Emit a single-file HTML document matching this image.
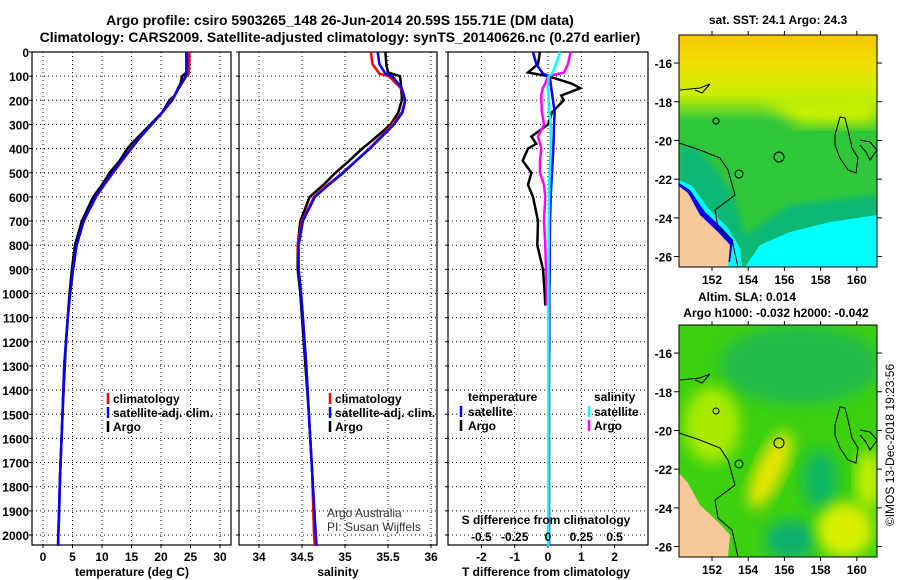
<!DOCTYPE html>
<html><head><meta charset="utf-8"><style>
html,body{margin:0;padding:0;background:#fff;}
svg{display:block;font-family:"Liberation Sans",sans-serif;font-weight:bold;}
</style></head><body>
<svg id="chart" width="900" height="580" viewBox="0 0 900 580" xmlns="http://www.w3.org/2000/svg">
<defs>
<linearGradient id="sstTop" x1="0" y1="0" x2="0" y2="1">
<stop offset="0" stop-color="#f6c400"/><stop offset="0.35" stop-color="#f0e000"/><stop offset="0.7" stop-color="#c8f000"/><stop offset="1" stop-color="#34c83c"/>
</linearGradient>
<filter id="blur" x="-20%" y="-20%" width="140%" height="140%"><feGaussianBlur stdDeviation="7"/></filter>
<filter id="blur2" x="-20%" y="-20%" width="140%" height="140%"><feGaussianBlur stdDeviation="3"/></filter>
<clipPath id="clipTop"><rect x="679" y="35" width="198" height="232"/></clipPath>
<clipPath id="clipBot"><rect x="679" y="325" width="198" height="232"/></clipPath>
</defs>
<text x="340" y="25" text-anchor="middle" font-size="14">Argo profile: csiro 5903265_148 26-Jun-2014 20.59S 155.71E (DM data)</text>
<text x="340" y="42" text-anchor="middle" font-size="14">Climatology: CARS2009. Satellite-adjusted climatology: synTS_20140626.nc (0.27d earlier)</text>

<!-- top map -->
<g clip-path="url(#clipTop)">
<rect x="679" y="35" width="198" height="232" fill="#30c63a"/>
<rect x="679" y="35" width="198" height="85" fill="url(#sstTop)"/>
<path d="M760,100 L877,95 L877,125 L800,125 Z" fill="#c8f000" filter="url(#blur)"/>
<path d="M679,145 L700,150 L720,175 L735,200 L745,235 L790,205 L877,195 L877,267 L679,267 Z" fill="#10b874" filter="url(#blur2)"/>
<path d="M745,267 L760,245 L790,232 L830,222 L877,215 L877,267 Z" fill="#00ffff"/>
<path d="M679,180 L692,186 L708,208 L728,228 L740,248 L742,267 L679,267 Z" fill="#00ffff"/>
<path d="M679,183 L690,190 L705,212 L722,228 L733,240 L730,262 L679,262 Z" fill="#0000f0"/>
<path d="M679,186 L688,193 L700,215 L718,232 L730,245 L728,267 L679,267 Z" fill="#f8c898"/>
<g fill="none" stroke="#000" stroke-width="1">
<path d="M679,143 L700,150 L720,158 L728,170 L735,195 L715,210 L718,228 L732,240 L738,267"/>
<circle cx="779" cy="157" r="5"/><circle cx="716" cy="121" r="3"/><circle cx="739" cy="174" r="4"/>
<path d="M835,135 L840,117 L845,118 L848,130 L852,148 L858,158 L856,173 L848,170 L840,158 L835,145 Z"/>
<path d="M680,90 L700,88 L710,84 L702,93 L695,90"/>
<path d="M860,140 L870,142 L877,150 L870,160 L866,152 L860,145"/>
</g>
</g>
<rect x="679" y="35" width="198" height="232" fill="none" stroke="#000" stroke-width="1"/>
<text x="778" y="24" text-anchor="middle" font-size="12">sat. SST: 24.1 Argo: 24.3</text>

<!-- bottom map -->
<g clip-path="url(#clipBot)">
<rect x="679" y="325" width="198" height="232" fill="#3cd010"/>
<ellipse cx="800" cy="365" rx="80" ry="40" fill="#20bc48" filter="url(#blur)"/>
<ellipse cx="712" cy="425" rx="28" ry="38" fill="#a8ea00" filter="url(#blur)"/>
<ellipse cx="770" cy="470" rx="14" ry="42" fill="#e8e400" filter="url(#blur)" transform="rotate(25 770 470)"/>
<ellipse cx="820" cy="480" rx="18" ry="30" fill="#10b860" filter="url(#blur)"/>
<ellipse cx="790" cy="540" rx="25" ry="20" fill="#10b070" filter="url(#blur)"/>
<ellipse cx="845" cy="530" rx="28" ry="28" fill="#d8f000" filter="url(#blur)"/>
<ellipse cx="868" cy="480" rx="12" ry="30" fill="#c8f000" filter="url(#blur)"/>
<path d="M679,473 L688,483 L700,505 L718,522 L730,535 L728,557 L679,557 Z" fill="#f8c898"/>
<g fill="none" stroke="#000" stroke-width="1">
<path d="M679,433 L700,440 L720,448 L728,460 L735,485 L715,500 L718,518 L732,530 L738,557"/>
<circle cx="779" cy="443" r="5"/><circle cx="716" cy="411" r="3"/><circle cx="739" cy="464" r="4"/>
<path d="M835,425 L840,407 L845,408 L848,420 L852,438 L858,448 L856,463 L848,460 L840,448 L835,435 Z"/>
<path d="M680,380 L700,378 L710,374 L702,383 L695,380"/>
<path d="M860,430 L870,432 L877,440 L870,450 L866,442 L860,435"/>
</g>
</g>
<rect x="679" y="325" width="198" height="232" fill="none" stroke="#000" stroke-width="1"/>
<text x="747" y="301" text-anchor="middle" font-size="12">Altim. SLA: 0.014</text>
<text x="776" y="317" text-anchor="middle" font-size="12">Argo h1000: -0.032 h2000: -0.042</text>
<text transform="translate(894,445) rotate(-90)" text-anchor="middle" font-size="12" font-weight="normal">©IMOS 13-Dec-2018 19:23:56</text>

<g id="plots"></g>
</svg>
<script>
// ---- data ----
const climDepths = [0,50,90,100,150,200,250,300,350,400,450,500,550,600,700,800,900,1000,1100,1200,1300,1500,1750,2000,2045];
const tempClim = [24.8,24.8,24.7,24.3,23.0,21.8,20.2,18.4,16.6,15.0,13.4,11.9,10.4,9.0,6.9,5.7,5.1,4.6,4.2,3.9,3.6,3.3,2.9,2.6,2.5];
const tempSat = [24.4,24.4,24.4,24.2,23.0,21.9,20.2,18.4,16.6,14.9,13.3,11.8,10.3,8.9,6.9,5.7,5.1,4.6,4.2,3.9,3.6,3.3,2.9,2.6,2.6];
const salClim = [35.30,35.32,35.40,35.51,35.65,35.70,35.66,35.55,35.42,35.28,35.13,34.97,34.80,34.64,34.50,34.45,34.46,34.49,34.51,34.53,34.55,34.58,34.62,34.64,34.65];
const salSat = [35.38,35.40,35.47,35.55,35.66,35.70,35.67,35.57,35.43,35.29,35.13,34.98,34.81,34.65,34.51,34.46,34.46,34.49,34.51,34.53,34.55,34.58,34.62,34.66,34.67];
const argoDepths = [0,50,85,100,130,150,180,200,250,300,350,380,400,450,500,550,600,700,800,900,1000,1200,1500,1750,1950];
const tempArgo = [24.3,24.3,24.3,23.6,23.3,22.9,22.3,21.4,20.2,18.2,16.2,15.0,14.3,13.0,11.3,10.0,8.5,6.6,5.4,4.9,4.5,3.9,3.3,2.9,2.7];
const salArgo = [35.47,35.48,35.50,35.64,35.65,35.65,35.66,35.66,35.62,35.53,35.37,35.27,35.20,35.05,34.89,34.75,34.59,34.48,34.45,34.45,34.48,34.52,34.58,34.62,34.64];
const diffDepths = [0,50,85,100,130,150,180,200,250,300,350,380,400,450,500,550,600,700,800,900,1000,1050];
const tDiffArgo = [-0.24,-0.3,-0.6,0,0.7,0.97,0.4,0.47,0.12,0,-0.5,-0.35,-0.6,-0.76,-0.5,-0.6,-0.45,-0.3,-0.32,-0.15,-0.1,-0.08];
const sDiffArgo = [0.17,0.15,0.12,0,-0.02,-0.04,-0.05,-0.05,-0.045,-0.03,-0.075,-0.06,-0.05,-0.06,-0.06,-0.03,-0.02,-0.03,-0.02,-0.015,-0.01,-0.01];
const tDiffSat = [-0.45,-0.35,-0.15,0.05,0.1,0.15,0.2,0.18,0.17,0.16,0.14,0.12,0.1,0.08,0.06,0.05,0.05,0.04,0.04,0.04,0.03,0.03,0.03,0.03,0.03];
const sDiffSat = [0.09,0.06,0.03,0.005,0,0.005,0.01,0.02,0.02,0.02,0.015,0.012,0.01,0.008,0.006,0.005,0.004,0.003,0.003,0.003,0.003,0.003,0.003,0.003,0.003];
const depthTicks = [0,100,200,300,400,500,600,700,800,900,1000,1100,1200,1300,1400,1500,1600,1700,1800,1900,2000];
const tempTicks = [0,5,10,15,20,25,30];
const salTicks = [34,34.5,35,35.5,36];
const tdTicks = [-2,-1,0,1,2];
const sdTickLabels = ["-0.5","-0.25","0","0.25","0.5"];
const latTicks = [-16,-18,-20,-22,-24,-26];
const lonTicks = [152,154,156,158,160];

const NS = "http://www.w3.org/2000/svg";
const root = document.getElementById('plots');
function mk(tag, attrs, parent){const e=document.createElementNS(NS,tag);for(const k in attrs)e.setAttribute(k,attrs[k]);(parent||root).appendChild(e);return e;}
const top0=52, bot=545;
const yD = d => top0 + d*0.2415;
const xT = t => 43 + t*5.9;
const xS = s => 259 + (s-34)*86;
const xTD = t => 548 + t*33.3;
const xSD = s => 548 + s*133.2;

function panel(name,x0,x1,xTicks,xf,labels){
  const g=mk('g',{});
  
  
  depthTicks.forEach(d=>{mk('line',{x1:x0,x2:x1,y1:yD(d),y2:yD(d),stroke:'#000','stroke-width':1,'stroke-dasharray':'1 3'},g);
    mk('line',{x1:x0-3,x2:x0,y1:yD(d),y2:yD(d),stroke:'#000'},g);});
  xTicks.forEach(v=>{mk('line',{x1:xf(v),x2:xf(v),y1:top0,y2:bot,stroke:'#000','stroke-dasharray':'1 3'},g);
    mk('line',{x1:xf(v),x2:xf(v),y1:bot,y2:bot+3,stroke:'#000'},g);});
  mk('rect',{x:x0,y:top0,width:x1-x0,height:bot-top0,fill:'none',stroke:'#000','stroke-width':1.2},g);
  xTicks.forEach((v,i)=>{const t=mk('text',{x:xf(v),y:561,'text-anchor':'middle','font-size':12},g);t.textContent=labels?labels[i]:String(v);
    
    });
  return g;
}
function line(name,xs,ds,xf,color,g){
  const pts=xs.map((v,i)=>xf(v).toFixed(1)+','+yD(ds[i]).toFixed(1)).join(' ');
  const p=mk('polyline',{points:pts,fill:'none',stroke:color,'stroke-width':2.5,'stroke-linejoin':'miter'},g);
  
  
}
function txt(name,x,y,s,opts,g){const t=mk('text',Object.assign({x:x,y:y,'font-size':12},opts||{}),g);t.textContent=s;
  
  return t;}
function legMark(x,y,c,g){mk('line',{x1:x,x2:x,y1:y-10,y2:y+1,stroke:c,'stroke-width':2.5},g);}

depthTicks.forEach(d=>{txt('depth-tick-label',29,yD(d)+5,String(d),{'text-anchor':'end'});});

const g1=panel('temperature-panel',32,231,tempTicks,xT);
line('temp-argo',tempArgo,argoDepths,xT,'#000',g1);
line('temp-climatology',tempClim,climDepths,xT,'#f00',g1);
line('temp-satellite-adj',tempSat,climDepths,xT,'#0000ff',g1);
txt('temp-x-axis-title',132,576,'temperature (deg C)',{'text-anchor':'middle'},g1);
legMark(108,403,'#f00',g1);txt('legend-climatology',113,403,'climatology',{},g1);
legMark(108,417,'#00f',g1);txt('legend-satellite-adj',113,417,'satellite-adj. clim.',{},g1);
legMark(108,431,'#000',g1);txt('legend-argo',113,431,'Argo',{},g1);

const g2=panel('salinity-panel',239,437,salTicks,xS);
line('sal-argo',salArgo,argoDepths,xS,'#000',g2);
line('sal-climatology',salClim,climDepths,xS,'#f00',g2);
line('sal-satellite-adj',salSat,climDepths,xS,'#0000ff',g2);
txt('sal-x-axis-title',338,576,'salinity',{'text-anchor':'middle'},g2);
legMark(330,403,'#f00',g2);txt('legend-climatology',335,403,'climatology',{},g2);
legMark(330,417,'#00f',g2);txt('legend-satellite-adj',335,417,'satellite-adj. clim.',{},g2);
legMark(330,431,'#000',g2);txt('legend-argo',335,431,'Argo',{},g2);
txt('credit-argo-australia',327,517,'Argo Australia',{'font-weight':'normal','fill':'#333'},g2);
txt('credit-pi',327,531,'PI: Susan Wijffels',{'font-weight':'normal','fill':'#333'},g2);

const g3=panel('difference-panel',448,648,tdTicks,xTD);
line('tdiff-argo',tDiffArgo,diffDepths,xTD,'#000',g3);
line('sdiff-argo',sDiffArgo,diffDepths,xSD,'#ff00ff',g3);
line('tdiff-satellite',tDiffSat,climDepths,xTD,'#0000ff',g3);
line('sdiff-satellite',sDiffSat,climDepths,xSD,'#00ffff',g3);
txt('tdiff-x-axis-title',546,576,'T difference from climatology',{'text-anchor':'middle'},g3);
txt('sdiff-axis-title',546,524,'S difference from climatology',{'text-anchor':'middle'},g3);
sdTickLabels.forEach((s,i)=>txt('sdiff-tick-label',xTD(tdTicks[i]),541,s,{'text-anchor':'middle'},g3));
txt('legend-temperature-heading',468,401,'temperature',{},g3);
legMark(461,416,'#00f',g3);txt('legend-t-satellite',468,416,'satellite',{},g3);
legMark(461,430,'#000',g3);txt('legend-t-argo',468,430,'Argo',{},g3);
txt('legend-salinity-heading',594,401,'salinity',{},g3);
legMark(589,416,'#0ff',g3);txt('legend-s-satellite',594,416,'satellite',{},g3);
legMark(589,430,'#f0f',g3);txt('legend-s-argo',594,430,'Argo',{},g3);

function mapAxes(name,top,bottom){
  const g=mk('g',{});
  
  
  const yl = l => top + (-14.55 - l)*19.35;
  const xl = l => 712 + (l-152)*18.1;
  latTicks.forEach(l=>{mk('line',{x1:674,x2:679,y1:yl(l),y2:yl(l),stroke:'#000'},g);
    mk('line',{x1:877,x2:882,y1:yl(l),y2:yl(l),stroke:'#000'},g);
    txt(name+'-lat-label',672,yl(l)+5,String(l),{'text-anchor':'end'},g);});
  lonTicks.forEach(l=>{mk('line',{x1:xl(l),x2:xl(l),y1:bottom,y2:bottom+4,stroke:'#000'},g);
    mk('line',{x1:xl(l),x2:xl(l),y1:top-4,y2:top,stroke:'#000'},g);
    txt(name+'-lon-label',xl(l),bottom+17,String(l),{'text-anchor':'middle'},g);});
}
mapAxes('sst-map-axes',35,267);
mapAxes('sla-map-axes',325,557);
</script>
</body></html>
